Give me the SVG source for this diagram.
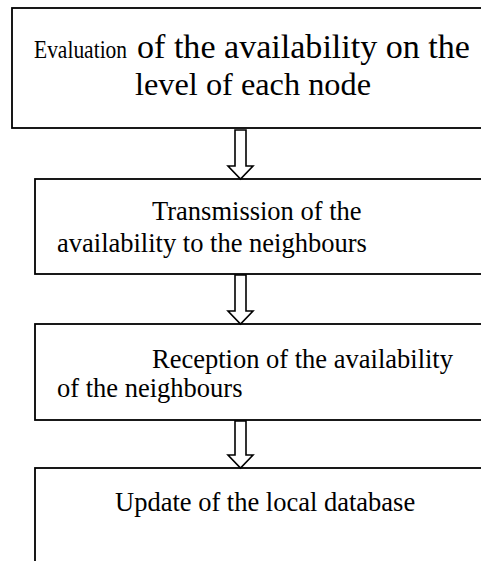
<svg xmlns="http://www.w3.org/2000/svg" width="481" height="561" viewBox="0 0 481 561">
<style>
.box{fill:#fff;stroke:#000;stroke-width:1.8}
.arr{fill:#fff;stroke:#000;stroke-width:1.6;stroke-linejoin:miter}
text{font-family:"Liberation Serif","Times New Roman",serif;fill:#000}
.t{font-size:26.5px}
.big{font-size:34px}
.big2{font-size:32px}
.sm{font-size:21.5px}
</style>
<rect width="481" height="561" fill="#fff"/>
<g id="node1">
<rect class="box" x="12" y="8" width="500" height="120"/>
<text class="sm" transform="translate(34,58) scale(1,1.22)" x="0" y="0">Evaluation</text>
<text class="big" x="137" y="58" textLength="333" lengthAdjust="spacingAndGlyphs">of the availability on the</text>
<text class="big2" x="135" y="95" textLength="236" lengthAdjust="spacingAndGlyphs">level of each node</text>
</g>
<g id="node2">
<rect class="box" x="35" y="179" width="470" height="95"/>
<text class="t" x="152" y="220">Transmission of the</text>
<text class="t" x="57" y="252">availability to the neighbours</text>
</g>
<g id="node3">
<rect class="box" x="35" y="324" width="470" height="96"/>
<text class="t" x="152" y="368">Reception of the availability</text>
<text class="t" x="57" y="397">of the neighbours</text>
</g>
<g id="node4">
<rect class="box" x="35" y="468" width="470" height="120"/>
<text class="t" x="115" y="511">Update of the local database</text>
</g>
<g id="connectors">
<polygon class="arr" points="235,130 246,130 246,166 253,166 240.5,179 228,166 235,166"/>
<polygon class="arr" points="235,275 246,275 246,311 253,311 240.5,324 228,311 235,311"/>
<polygon class="arr" points="235,421 246,421 246,455 253,455 240.5,468 228,455 235,455"/>
</g>
</svg>
